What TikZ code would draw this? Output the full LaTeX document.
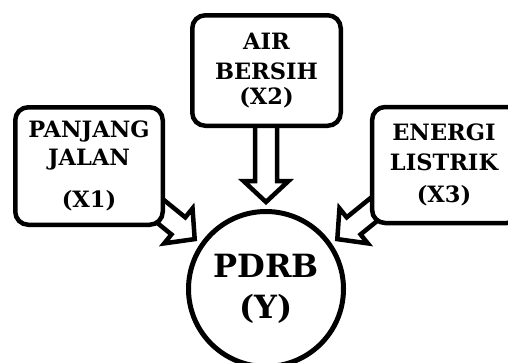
\documentclass[tikz,border=0pt]{standalone}
\usepackage{fontspec}
\newfontfamily\dvs{DejaVu Serif}
\tikzset{
  box/.style={draw, line width=4.5pt, rounded corners=13pt, fill=white, align=center,
    font=\dvs\bfseries\fontsize{22.5}{25.5}\selectfont, inner sep=0pt},
  fat/.style={draw, line width=4.5pt, fill=white, line join=miter},
  target/.style={circle, draw, line width=5pt, fill=white, minimum size=155pt, inner sep=0pt,
    align=center, font=\dvs\bfseries\fontsize{32}{41}\selectfont}
}
\newcommand\fatarr[2]{%
  \begin{scope}[shift={(#1)}, rotate=#2]
    \draw[fat] (-100,11) -- (-21,11) -- (-21,22.5) -- (0,0) -- (-21,-22.5) -- (-21,-11) -- (-100,-11);
  \end{scope}}
\begin{document}
\begin{tikzpicture}[x=1pt,y=-1pt]
\useasboundingbox (0,0) rectangle (508,362);
\clip (0,0) rectangle (508,362);
\coordinate (t1) at (194.7,239.1);
\coordinate (t2) at (266,202);
\coordinate (t3) at (337.3,239.1);
\fatarr{t1}{-39}
\fatarr{t2}{-90}
\fatarr{t3}{-141}
\node[box, minimum width=147.5pt, minimum height=117.5pt] (x1) at (89,166)
  {PANJANG\\[2pt]JALAN\\[16.5pt](X1)};
\node[box, minimum width=148.5pt, minimum height=110.5pt] (x2) at (266.5,70.5)
  {AIR\\[4.5pt]BERSIH\\[0pt](X2)};
\node[box, minimum width=147.75pt, minimum height=116pt, text width=130pt] (x3) at (446,165)
  {\hspace*{-4pt}ENERGI\\[4.5pt]\hspace*{-4pt}LISTRIK\\[6pt]\hspace*{-4pt}(X3)};
\node[target] (y) at (266,289) {PDRB\\(Y)};
\end{tikzpicture}
\end{document}
